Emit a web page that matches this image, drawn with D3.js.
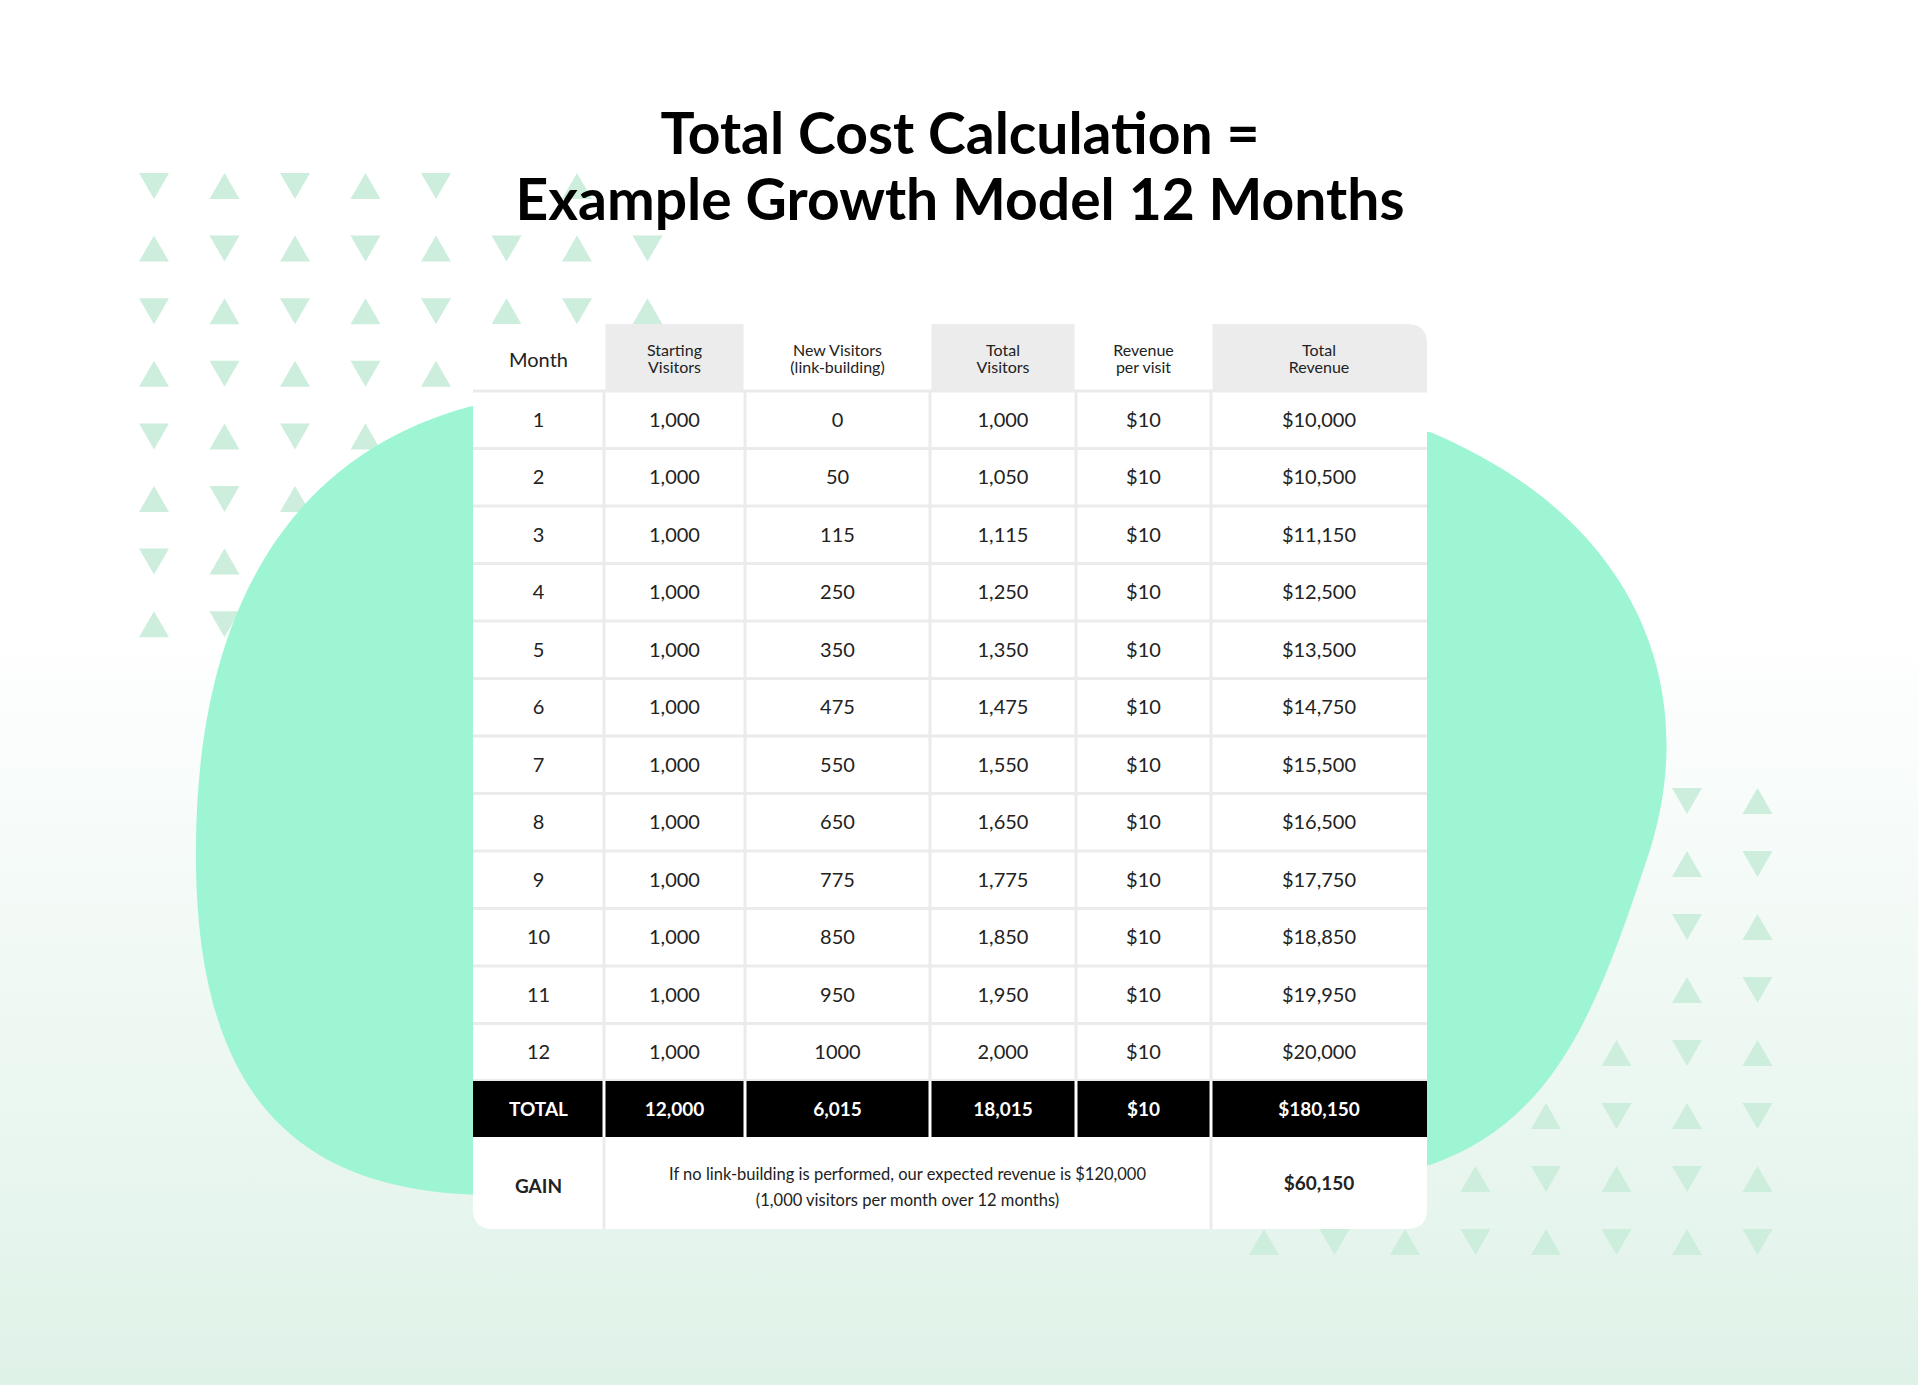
<!DOCTYPE html>
<html><head><meta charset="utf-8">
<script src="https://cdn.jsdelivr.net/npm/d3@7"></script>
<style>body{margin:0;background:#fff}svg{display:block}</style>
</head><body><svg id="c" width="1918" height="1385"></svg>
<script>
const headers = [["Month"],["Starting","Visitors"],["New Visitors","(link-building)"],["Total","Visitors"],["Revenue","per visit"],["Total","Revenue"]];
const headerGray = [false,true,false,true,false,true];
const months = ["1","2","3","4","5","6","7","8","9","10","11","12"];
const startingVisitors = [1000,1000,1000,1000,1000,1000,1000,1000,1000,1000,1000,1000];
const newVisitors = [0,50,115,250,350,475,550,650,775,850,950,1000];
const totalVisitors = [1000,1050,1115,1250,1350,1475,1550,1650,1775,1850,1950,2000];
const revenuePerVisit = [10,10,10,10,10,10,10,10,10,10,10,10];
const totalRevenue = [10000,10500,11150,12500,13500,14750,15500,16500,17750,18850,19950,20000];
const totalRow = ["TOTAL","12,000","6,015","18,015","$10","$180,150"];
const gainLabel = "GAIN";
const gainText = ["If no link-building is performed, our expected revenue is $120,000","(1,000 visitors per month over 12 months)"];
const gainValue = "$60,150";
const colEdges = [0,1,2,3,4,5,6];

const svg = d3.select("#c");
const defs = svg.append("defs");
const g1 = defs.append("linearGradient").attr("id","bg").attr("x1",0).attr("x2",0).attr("y1",0).attr("y2",1);
g1.append("stop").attr("offset","0.45").attr("stop-color","#ffffff");
g1.append("stop").attr("offset","1").attr("stop-color","#dff2e8");
svg.append("rect").attr("width",1918).attr("height",1385).attr("fill","url(#bg)");

const triTL = {x0:154, y0:186, dx:70.5, dy:62.6, counts:[5,8,8,5,4,3,2,2]};
const triBR = {x0:1264, y0:801, dx:70.5, dy:63, starts:[6,6,6,6,5,4,3,0]};
function tri(g,cx,cy,down){
  const w=15,h=13;
  const p = down ? [[cx-w,cy-h],[cx+w,cy-h],[cx,cy+h]] : [[cx-w,cy+h],[cx+w,cy+h],[cx,cy-h]];
  g.append("path").attr("d","M"+p.join("L")+"Z").attr("fill","#cdeedd");
}
const tg = svg.append("g");
triTL.counts.forEach((n,r)=>{for(let c=0;c<n;c++) tri(tg,triTL.x0+c*triTL.dx,triTL.y0+r*triTL.dy,(r+c)%2===0);});
tri(tg,triTL.x0+6*triTL.dx,triTL.y0,false);
triBR.starts.forEach((s,r)=>{for(let c=s;c<8;c++) tri(tg,triBR.x0+c*triBR.dx,triBR.y0+r*triBR.dy,(r+c)%2===0);});

svg.append("path").attr("fill","#9ef5d3").attr("d",
 "M480,404 C330,440 200,560 196,840 C192,1100 300,1190 480,1195 L1430,1165 C1560,1120 1600,1000 1650,850 C1700,690 1640,520 1430,432 Z");

const X = d3.scaleLinear().domain(colEdges).range([473,604,745,930,1076,1211,1427]);
const Y = d3.scaleBand().domain(months).range([391,1081]);
const gap = 3;
const T = svg.append("g").attr("font-family","Lato, 'Open Sans', sans-serif").attr("fill","#222");
T.append("path").attr("fill","#fff").attr("d",
 "M473,324 L1407,324 Q1427,324 1427,344 L1427,1209 Q1427,1229 1407,1229 L493,1229 Q473,1229 473,1209 Z");
headers.forEach((h,i)=>{
  if(headerGray[i]){
    const x0=X(i)+(i?gap/2:0), x1=X(i+1)-(i<5?gap/2:0);
    if(i===5) T.append("path").attr("fill","#ececec").attr("d",`M${x0},324 L${x1-20},324 Q${x1},324 ${x1},344 L${x1},391 L${x0},391 Z`);
    else T.append("rect").attr("x",x0).attr("y",324).attr("width",x1-x0).attr("height",67).attr("fill","#ececec");
  }
  const cx=(X(i)+X(i+1))/2;
  const t=T.append("text").attr("text-anchor","middle").attr("font-size",i===0?20:16);
  if(h.length===1) t.append("tspan").attr("x",cx).attr("y",367).text(h[0]);
  else h.forEach((s,k)=>t.append("tspan").attr("x",cx).attr("y",356+k*17).text(s));
});
const lineCol="#ebebeb";
months.forEach(m=>T.append("rect").attr("x",473).attr("y",Y(m)-1.5).attr("width",954).attr("height",3).attr("fill",lineCol));
for(let i=1;i<6;i++) T.append("rect").attr("x",X(i)-1.5).attr("y",391).attr("width",3).attr("height",690).attr("fill",lineCol);
T.append("rect").attr("x",473).attr("y",1079).attr("width",954).attr("height",2).attr("fill",lineCol);
const fmt=d3.format(",");
const rows = months.map((m,i)=>[m,fmt(startingVisitors[i]),String(newVisitors[i]),fmt(totalVisitors[i]),"$"+revenuePerVisit[i],"$"+fmt(totalRevenue[i])]);
rows.forEach((r,ri)=>r.forEach((v,ci)=>{
  T.append("text").attr("x",(X(ci)+X(ci+1))/2).attr("y",Y(months[ri])+Y.bandwidth()/2+7)
   .attr("text-anchor","middle").attr("font-size",20).text(v);
}));
totalRow.forEach((v,i)=>{
  const x0=X(i)+(i?gap/2:0), x1=X(i+1)-(i<5?gap/2:0);
  T.append("rect").attr("x",x0).attr("y",1081).attr("width",x1-x0).attr("height",56).attr("fill","#000");
  T.append("text").attr("x",(X(i)+X(i+1))/2).attr("y",1116).attr("text-anchor","middle")
   .attr("font-size",19).attr("font-weight","bold").attr("fill","#fff").text(v);
});
T.append("rect").attr("x",X(1)-1.5).attr("y",1137).attr("width",3).attr("height",92).attr("fill",lineCol);
T.append("rect").attr("x",X(5)-1.5).attr("y",1137).attr("width",3).attr("height",92).attr("fill",lineCol);
T.append("text").attr("x",(X(0)+X(1))/2).attr("y",1193).attr("text-anchor","middle").attr("font-size",19).attr("font-weight","bold").text(gainLabel);
gainText.forEach((s,k)=>T.append("text").attr("x",(X(1)+X(5))/2).attr("y",1180+k*26).attr("text-anchor","middle").attr("font-size",16.5).text(s));
T.append("text").attr("x",(X(5)+X(6))/2).attr("y",1190).attr("text-anchor","middle").attr("font-size",19).attr("font-weight","bold").text(gainValue);

const tt=svg.append("text").attr("text-anchor","middle").attr("font-family","Lato, 'Open Sans', sans-serif").attr("font-weight","bold").attr("font-size",57).attr("fill","#000");
tt.append("tspan").attr("x",960).attr("y",154).text("Total Cost Calculation =");
tt.append("tspan").attr("x",960).attr("y",220).text("Example Growth Model 12 Months");
</script></body></html>
